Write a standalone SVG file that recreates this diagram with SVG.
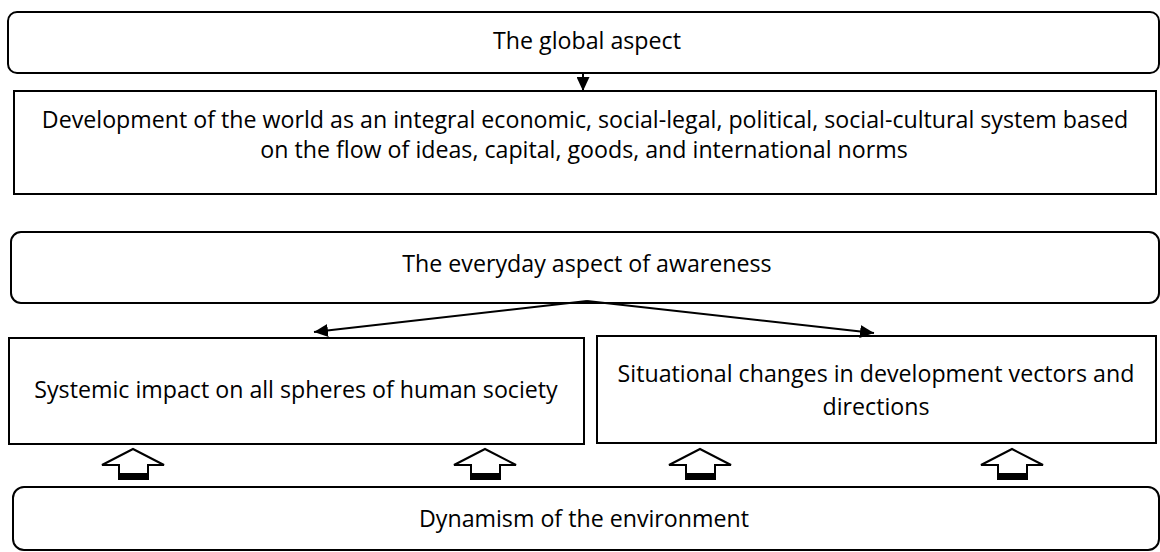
<svg xmlns="http://www.w3.org/2000/svg" width="1160" height="552" viewBox="0 0 1160 552">
<style>
.box{fill:#fff;stroke:#000;stroke-width:2}
.t{font-family:"Open Sans","Liberation Sans",sans-serif;font-size:23.2px;fill:#000;text-anchor:middle}
.con{stroke:#000;stroke-width:2;fill:none}
.blk{fill:#fff;stroke:#000;stroke-width:2;stroke-linejoin:miter}
</style>
<defs>
<marker id="ah" viewBox="0 0 14 13" refX="14" refY="6.5" markerWidth="14" markerHeight="13" markerUnits="userSpaceOnUse" orient="auto">
<path d="M0,0 L14,6.5 L0,13 Z" fill="#000"/>
</marker>
<g id="uparrow">
<polygon class="blk" points="0,-15 31,1 15,1 15,15 -14,15 -14,1 -31,1"/>
<rect x="-14" y="9" width="29" height="6" fill="#000"/>
</g>
</defs>
<g id="global">
<rect class="box" x="8" y="12" width="1151" height="61" rx="9"/>
<text class="t" x="587" y="49">The global aspect</text>
</g>
<g id="development">
<rect class="box" x="14" y="91" width="1142" height="103"/>
<text class="t" x="585" y="128">Development of the world as an integral economic, social-legal, political, social-cultural system based</text>
<text class="t" x="584" y="158">on the flow of ideas, capital, goods, and international norms</text>
</g>
<g id="everyday">
<rect class="box" x="11" y="232" width="1148" height="71" rx="10"/>
<text class="t" x="587" y="272">The everyday aspect of awareness</text>
</g>
<g id="systemic">
<rect class="box" x="9" y="338" width="575" height="106"/>
<text class="t" x="296" y="398">Systemic impact on all spheres of human society</text>
</g>
<g id="situational">
<rect class="box" x="597" y="336" width="559" height="107"/>
<text class="t" x="876" y="382">Situational changes in development vectors and</text>
<text class="t" x="876" y="415">directions</text>
</g>
<g id="dynamism">
<rect class="box" x="13" y="487" width="1146" height="63" rx="11"/>
<text class="t" x="584" y="527">Dynamism of the environment</text>
</g>
<g id="connectors">
<line class="con" x1="583" y1="73" x2="583" y2="91" marker-end="url(#ah)"/>
<line class="con" x1="587" y1="301" x2="314" y2="332" marker-end="url(#ah)"/>
<line class="con" x1="587" y1="301" x2="874" y2="333" marker-end="url(#ah)"/>
<use href="#uparrow" x="133" y="464"/>
<use href="#uparrow" x="485" y="464"/>
<use href="#uparrow" x="700" y="464"/>
<use href="#uparrow" x="1012" y="464"/>
</g>
</svg>
